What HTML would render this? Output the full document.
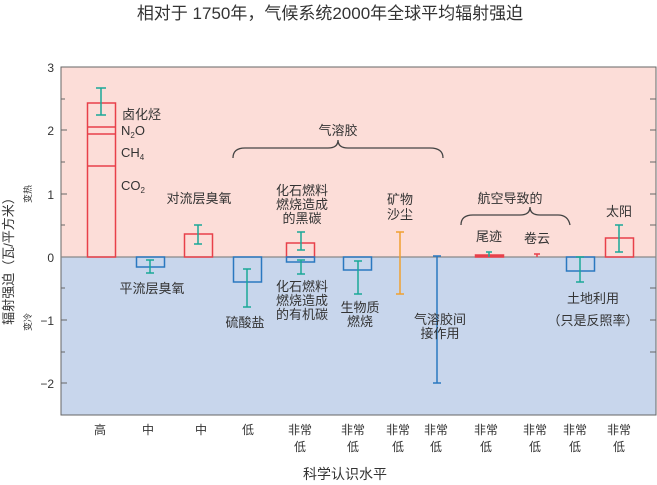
<!DOCTYPE html>
<html><head><meta charset="utf-8"><style>
body{margin:0;background:#fff}
svg{display:block}
text{font-family:"Liberation Sans","Noto Sans CJK SC",sans-serif;fill:#333}
</style></head><body>
<svg width="657" height="485" viewBox="0 0 657 485">
<text x="330" y="19" font-size="17" text-anchor="middle">相对于 1750年，气候系统2000年全球平均辐射强迫</text>
<rect x="61" y="67" width="595" height="190" fill="#fcddd8"/>
<rect x="61" y="257" width="595" height="158" fill="#c8d6ec"/>
<path d="M61 67H656V415H61Z" fill="none" stroke="#666" stroke-width="1"/>
<line x1="61" y1="257" x2="656" y2="257" stroke="#888" stroke-width="1.2"/>
<g stroke="#666" stroke-width="1">
<line x1="61" y1="67" x2="67" y2="67"/><line x1="61" y1="99" x2="65" y2="99"/>
<line x1="61" y1="130" x2="67" y2="130"/><line x1="61" y1="162" x2="65" y2="162"/>
<line x1="61" y1="194" x2="67" y2="194"/><line x1="61" y1="225" x2="65" y2="225"/>
<line x1="61" y1="288" x2="65" y2="288"/><line x1="61" y1="320" x2="67" y2="320"/>
<line x1="61" y1="352" x2="65" y2="352"/><line x1="61" y1="383" x2="67" y2="383"/>
<line x1="650" y1="99" x2="656" y2="99"/><line x1="650" y1="130" x2="656" y2="130"/>
<line x1="650" y1="162" x2="656" y2="162"/><line x1="650" y1="194" x2="656" y2="194"/>
<line x1="650" y1="225" x2="656" y2="225"/><line x1="650" y1="288" x2="656" y2="288"/>
<line x1="650" y1="320" x2="656" y2="320"/><line x1="650" y1="352" x2="656" y2="352"/>
</g>
<g font-size="12" text-anchor="end">
<text x="54" y="72">3</text><text x="54" y="135">2</text><text x="54" y="199">1</text>
<text x="54" y="262">0</text><text x="54" y="325">−1</text><text x="54" y="388">−2</text>
</g>
<text transform="translate(13,258) rotate(-90)" font-size="13" text-anchor="middle">辐射强迫（瓦/平方米）</text>
<text transform="translate(31,194) rotate(-90)" font-size="9" text-anchor="middle">变热</text>
<text transform="translate(31,322) rotate(-90)" font-size="9" text-anchor="middle">变冷</text>
<g fill="none" stroke-width="1.5">
<g stroke="#e8404a">
<rect x="87.5" y="103" width="28" height="154"/>
<line x1="87.5" y1="127" x2="115.5" y2="127"/><line x1="87.5" y1="134" x2="115.5" y2="134"/><line x1="87.5" y1="166" x2="115.5" y2="166"/>
<rect x="184.5" y="234" width="28" height="23"/>
<rect x="286.5" y="243" width="28" height="14"/>
<rect x="475.5" y="255" width="28" height="2" fill="#e8404a"/>
<rect x="605.5" y="238" width="28" height="19"/>
</g>
<g stroke="#2a78c0">
<rect x="136.5" y="257" width="28" height="10"/>
<rect x="233.5" y="257" width="28" height="25"/>
<rect x="286.5" y="257" width="28" height="5"/>
<rect x="343.5" y="257" width="28" height="13"/>
<rect x="566.5" y="257" width="28" height="14"/>
</g>
<g stroke="#1aa898">
<path d="M101 88V115M96 88H106M96 115H106"/>
<path d="M150 260V273M146 260H154M146 273H154"/>
<path d="M198 225V244M194 225H202M194 244H202"/>
<path d="M247 269V307M243 269H251M243 307H251"/>
<path d="M301 232V250M297 232H305M297 250H305"/>
<path d="M301 260V274M297 260H305M297 274H305"/>
<path d="M358 261V294M354 261H362M354 294H362"/>
<path d="M489 252V257M486 252H492"/>
<path d="M580 257V282M576 257H584M576 282H584"/>
<path d="M619 225V252M615 225H623M615 252H623"/>
</g>
<path d="M400 232V294M396 232H404M396 294H404" stroke="#f0a030"/>
<path d="M437 256V383M433 256H441M433 383H441" stroke="#2a78c0"/>
<path d="M537 254V257M534 254H540" stroke="#e8404a"/>
<g stroke="#444" stroke-width="1.3">
<path d="M233 158Q233 148 245 148H328Q338 148 338 140Q338 148 348 148H430Q443 148 443 158"/>
<path d="M461 225Q461 215 473 215H520Q530 215 530 207Q530 215 540 215H558Q568 215 570 225"/>
</g>
</g>
<g font-size="13">
<text x="122" y="119">卤化烃</text>
<text x="121" y="135">N<tspan font-size="8" dy="3">2</tspan><tspan dy="-3">O</tspan></text>
<text x="121" y="157">CH<tspan font-size="8" dy="3">4</tspan></text>
<text x="121" y="190">CO<tspan font-size="8" dy="3">2</tspan></text>
</g>
<g font-size="13" text-anchor="middle">
<text x="199" y="203">对流层臭氧</text>
<text x="152" y="293">平流层臭氧</text>
<text x="245" y="327">硫酸盐</text>
<text x="338" y="135">气溶胶</text>
<text x="302" y="195">化石燃料</text><text x="302" y="209">燃烧造成</text><text x="302" y="223">的黑碳</text>
<text x="302" y="291">化石燃料</text><text x="302" y="305">燃烧造成</text><text x="302" y="319">的有机碳</text>
<text x="360" y="312">生物质</text><text x="360" y="326">燃烧</text>
<text x="400" y="204">矿物</text><text x="400" y="219">沙尘</text>
<text x="440" y="324">气溶胶间</text><text x="440" y="338">接作用</text>
<text x="510" y="203">航空导致的</text>
<text x="489" y="241">尾迹</text>
<text x="537" y="243">卷云</text>
<text x="619" y="216">太阳</text>
<text x="593" y="303">土地利用</text>
<text x="593" y="325">（只是反照率）</text>
</g>
<g font-size="12" text-anchor="middle">
<text x="100" y="434">高</text><text x="148" y="434">中</text><text x="201" y="434">中</text><text x="248" y="434">低</text>
<text x="300" y="434">非常</text><text x="300" y="451">低</text>
<text x="353" y="434">非常</text><text x="353" y="451">低</text>
<text x="398" y="434">非常</text><text x="398" y="451">低</text>
<text x="436" y="434">非常</text><text x="436" y="451">低</text>
<text x="486" y="434">非常</text><text x="486" y="451">低</text>
<text x="535" y="434">非常</text><text x="535" y="451">低</text>
<text x="575" y="434">非常</text><text x="575" y="451">低</text>
<text x="619" y="434">非常</text><text x="619" y="451">低</text>
<text x="345" y="479" font-size="14">科学认识水平</text>
</g>
</svg>
</body></html>
